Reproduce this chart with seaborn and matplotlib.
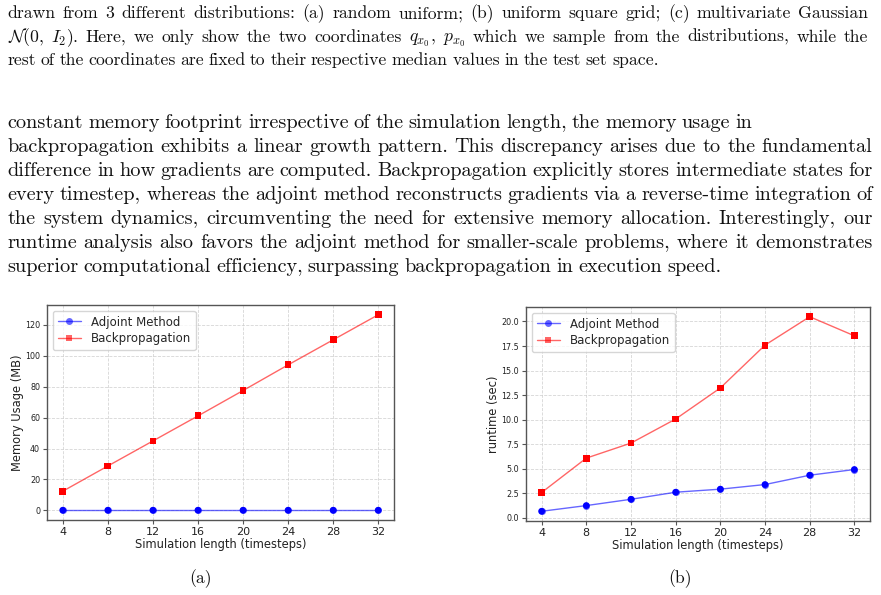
import matplotlib
matplotlib.use("Agg")
import matplotlib.pyplot as plt
import seaborn as sns
import pandas as pd

# ---------------- data ----------------
timesteps = [4, 8, 12, 16, 20, 24, 28, 32]
memory_adjoint = [0.1, 0.1, 0.1, 0.1, 0.1, 0.1, 0.1, 0.1]
memory_backprop = [12.4, 28.7, 44.9, 61.1, 77.5, 94.1, 110.3, 126.5]
runtime_adjoint = [0.68, 1.26, 1.90, 2.62, 2.93, 3.40, 4.35, 4.93]
runtime_backprop = [2.59, 6.09, 7.62, 10.07, 13.23, 17.59, 20.48, 18.54]
series_names = ["Adjoint Method", "Backpropagation"]
xlabel_text = "Simulation length (timesteps)"
ylabel_memory = "Memory Usage (MB)"
ylabel_runtime = "runtime (sec)"
subfig_labels = ["(a)", "(b)"]

caption_lines = [
    "drawn from 3 different distributions: (a) random uniform; (b) uniform square grid; (c) multivariate Gaussian",
    r"$\mathcal{N}(\mathbf{0},$ $I_2)$. Here, we only show the two coordinates $q_{x_0},$ $p_{x_0}$ which we sample from the distributions, while the",
    "rest of the coordinates are fixed to their respective median values in the test set space.",
]
body_lines = [
    "constant memory footprint irrespective of the simulation length, the memory usage in",
    "backpropagation exhibits a linear growth pattern. This discrepancy arises due to the fundamental",
    "difference in how gradients are computed. Backpropagation explicitly stores intermediate states for",
    "every timestep, whereas the adjoint method reconstructs gradients via a reverse-time integration of",
    "the system dynamics, circumventing the need for extensive memory allocation. Interestingly, our",
    "runtime analysis also favors the adjoint method for smaller-scale problems, where it demonstrates",
    "superior computational efficiency, surpassing backpropagation in execution speed.",
]

# ---------------- style ----------------
sns.set_theme(style="ticks")
plt.rcParams["font.family"] = ["DejaVu Sans"]
plt.rcParams["mathtext.fontset"] = "cm"

W, H = 881, 595
fig = plt.figure(figsize=(W / 100, H / 100), dpi=100)
fig.patch.set_facecolor("white")

palette = {series_names[0]: "blue", series_names[1]: "red"}
markers = {series_names[0]: "o", series_names[1]: "s"}


def make_df(adj, bp):
    return pd.DataFrame({
        "t": timesteps * 2,
        "v": list(adj) + list(bp),
        "method": [series_names[0]] * len(timesteps) + [series_names[1]] * len(timesteps),
    })


def draw_panel(rect, df, ylabel):
    ax = fig.add_axes(rect)
    sns.lineplot(data=df, x="t", y="v", hue="method", style="method",
                 hue_order=series_names, style_order=series_names,
                 palette=palette, markers=markers, dashes=False,
                 alpha=0.6, linewidth=1.0, markersize=5, markeredgewidth=0,
                 ax=ax)
    sns.scatterplot(data=df, x="t", y="v", hue="method", style="method",
                    hue_order=series_names, style_order=series_names,
                    palette=palette, markers=markers, s=24, linewidth=0,
                    legend=False, ax=ax, zorder=3)
    ax.set_xticks(timesteps)
    ax.grid(True, linestyle="--", color="#cccccc", linewidth=0.6, alpha=0.8)
    ax.set_axisbelow(True)
    for sp in ax.spines.values():
        sp.set_color("#555555")
        sp.set_linewidth(1.0)
    ax.tick_params(axis="x", labelsize=8, length=3, width=0.8, colors="#555555", labelcolor="#222222", pad=2)
    ax.tick_params(axis="y", labelsize=5.8, length=3, width=0.8, colors="#555555", labelcolor="#222222", pad=2)
    ax.set_xlabel(xlabel_text, fontsize=8.3, labelpad=1, color="#222222")
    ax.set_ylabel(ylabel, fontsize=8.3, labelpad=1, color="#222222")
    sns.move_legend(ax, "upper left", fontsize=8.5, title=None, frameon=True,
                    borderaxespad=0.5, handlelength=2.0, labelspacing=0.3)
    return ax


axL = draw_panel([47 / W, 1 - 520 / H, 347 / W, 215 / H],
                 make_df(memory_adjoint, memory_backprop), ylabel_memory)
axR = draw_panel([526 / W, 1 - 521 / H, 344 / W, 214 / H],
                 make_df(runtime_adjoint, runtime_backprop), ylabel_runtime)

# ---------------- page text (justified, Computer Modern) ----------------
fig.canvas.draw()
renderer = fig.canvas.get_renderer()
TEXT_FAMILY = "cmr10"
REF = 10.0


def text_width(s, size):
    t = fig.text(0, 0, s, fontsize=size, family=TEXT_FAMILY)
    w = t.get_window_extent(renderer).width
    t.remove()
    return w


def last_line_size(line, target):
    words = line.split(" ")
    em = REF * 100 / 72.0
    nat = sum(text_width(w, REF) for w in words) + 0.3333 * em * (len(words) - 1)
    return REF * target / nat


def draw_paragraph(lines, justify, left, right, baseline0, dy, size, last_target):
    words_last = lines[-1].split(" ")
    wl = sum(text_width(w, size) for w in words_last)
    em = size * 100 / 72.0
    space = (last_target - wl) / (len(words_last) - 1)
    space = max(0.25 * em, min(0.36 * em, space))
    for i, line in enumerate(lines):
        words = line.split(" ")
        ws = [text_width(w, size) for w in words]
        if justify[i] and len(words) > 1:
            gap = (right - left - sum(ws)) / (len(words) - 1)
        else:
            gap = space
        x = left
        y = baseline0 + i * dy
        for w, wd in zip(words, ws):
            fig.text(x / W, 1 - y / H, w, fontsize=size, family=TEXT_FAMILY,
                     ha="left", va="baseline", color="#111111")
            x += wd + gap


body_size = last_line_size(body_lines[-1], 712) * 1.02
cap_size = last_line_size(caption_lines[-1], 651) * 1.03

draw_paragraph(caption_lines, [True, True, False], 7.5, 868.5, 18.3, 23.4, cap_size, 651)
draw_paragraph(body_lines, [False, True, True, True, True, True, False], 7.5, 872.5, 128.5, 23.9, body_size, 712)

for lab, xc in zip(subfig_labels, [201, 680]):
    fig.text(xc / W, 1 - 583 / H, lab, fontsize=cap_size, family=TEXT_FAMILY,
             ha="center", va="baseline", color="#111111")

fig.savefig("out.png", dpi=100, facecolor="white")
